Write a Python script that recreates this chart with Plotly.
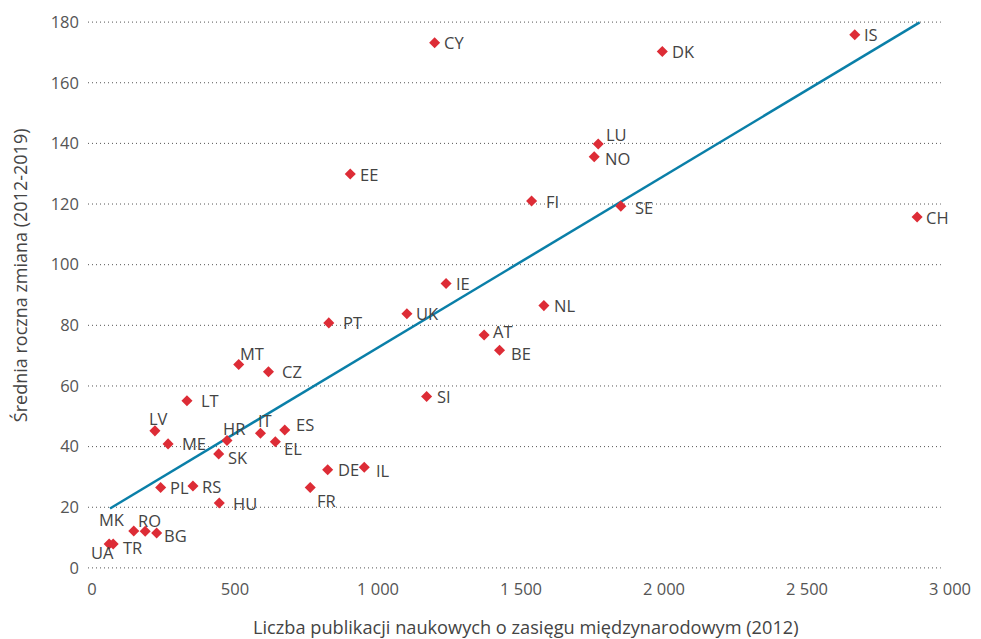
import plotly.graph_objects as go

# Countries: international publications (2012) vs. average annual change (2012-2019)
countries = ["UA", "TR", "MK", "RO", "BG", "PL", "RS", "HU", "FR", "LT",
             "LV", "ME", "HR", "SK", "IT", "ES", "EL", "DE", "IL", "EE",
             "PT", "UK", "IE", "MT", "CZ", "SI", "CY", "DK", "LU", "NO",
             "FI", "SE", "AT", "BE", "NL", "IS", "CH"]
publications = [60, 74, 146, 186, 226, 240, 353, 445, 763, 332,
                220, 266, 472, 443, 589, 674, 641, 824, 952, 903,
                828, 1101, 1238, 513, 617, 1170, 1198, 1994, 1770, 1756,
                1537, 1849, 1371, 1425, 1580, 2667, 2885]
annual_change = [7.9, 7.9, 12.2, 12.1, 11.5, 26.5, 27.0, 21.4, 26.5, 55.1,
                 45.2, 40.9, 42.0, 37.6, 44.4, 45.5, 41.6, 32.4, 33.2, 129.9,
                 80.8, 83.8, 93.8, 67.1, 64.7, 56.5, 173.2, 170.3, 139.8, 135.6,
                 121.0, 119.3, 76.8, 71.8, 86.5, 175.8, 115.7]

# Linear trend line endpoints
trend_x = [63, 2894]
trend_y = [19.6, 179.9]

# Axis ticks
x_ticks = [0, 500, 1000, 1500, 2000, 2500, 3000]
x_tick_labels = ["0", "500", "1 000", "1 500", "2 000", "2 500", "3 000"]
y_ticks = [0, 20, 40, 60, 80, 100, 120, 140, 160, 180]

# Label placement: (anchor, shift right px, shift down px)
label_place = {
    "DK": ("left", 8, 0), "EE": ("left", 8, 0), "PT": ("left", 12, 0),
    "IE": ("left", 8, 0), "CZ": ("left", 12, 0), "SI": ("left", 8, 0),
    "NO": ("left", 9, 2), "LU": ("left", 6, -9), "FI": ("left", 12, 0),
    "SE": ("left", 12, 1), "AT": ("left", 7, -4), "BE": ("left", 9, 3),
    "NL": ("left", 8, 0), "LT": ("left", 12, 0), "LV": ("center", 4, -12),
    "ME": ("left", 12, 0), "HR": ("center", 7, -12), "SK": ("left", 7, 4),
    "IT": ("center", 5, -13), "ES": ("left", 9, -5), "EL": ("left", 7, 7),
    "DE": ("left", 8, 0), "IL": ("left", 10, 3), "HU": ("left", 12, 0),
    "FR": ("left", 5, 13), "MK": ("right", -7, -11), "RO": ("center", 4, -11),
    "BG": ("left", 5, 2), "UA": ("center", -7, 9), "TR": ("left", 8, 4),
    "MT": ("center", 13, -11),
}

FONT = "Open Sans"
TEXT = "#444444"
RED = "#dd2c36"
BLUE = "#0a7fa8"

fig = go.Figure()

# Dotted horizontal grid lines
for yv in y_ticks:
    fig.add_shape(type="line", xref="x", yref="y", x0=-14, x1=2968, y0=yv, y1=yv,
                  line=dict(color="#555555", width=1, dash="1px,3px"), layer="below")

fig.add_trace(go.Scatter(x=trend_x, y=trend_y, mode="lines",
                         line=dict(color=BLUE, width=2.5), hoverinfo="skip",
                         showlegend=False))

fig.add_trace(go.Scatter(x=publications, y=annual_change, mode="markers",
                         marker=dict(symbol="diamond", size=8.5, color=RED),
                         text=countries, showlegend=False))

for c, xv, yv in zip(countries, publications, annual_change):
    anchor, dx, dy = label_place.get(c, ("left", 7, 0))
    fig.add_annotation(x=xv, y=yv, xref="x", yref="y", text=c, showarrow=False,
                       xanchor=anchor, yanchor="middle", xshift=dx, yshift=-dy,
                       font=dict(family=FONT, size=16.5, color=TEXT))

# Axis titles
fig.add_annotation(xref="paper", yref="paper", x=0.508, y=-0.088,
                   text="Liczba publikacji naukowych o zasięgu międzynarodowym (2012)",
                   showarrow=False, xanchor="center", yanchor="middle",
                   font=dict(family=FONT, size=18.2, color=TEXT))
fig.add_annotation(xref="paper", yref="paper", x=-0.079, y=0.535,
                   text="Średnia roczna zmiana (2012-2019)", textangle=-90,
                   showarrow=False, xanchor="center", yanchor="middle",
                   font=dict(family=FONT, size=18, color=TEXT))

fig.update_layout(
    width=981, height=639,
    margin=dict(l=88, r=29, t=10, b=62),
    plot_bgcolor="white", paper_bgcolor="white",
    font=dict(family=FONT, size=15, color=TEXT),
    xaxis=dict(range=[-14, 3000], tickvals=x_ticks, ticktext=x_tick_labels,
               showgrid=False, zeroline=False, showline=False, ticks="",
               tickfont=dict(size=16.5, color="#555555")),
    yaxis=dict(range=[-3, 183], tickvals=y_ticks, showgrid=False, zeroline=False,
               showline=False, ticks="", ticklabelstandoff=8,
               tickfont=dict(size=16.5, color="#555555")),
)

fig.write_html("out.html")
